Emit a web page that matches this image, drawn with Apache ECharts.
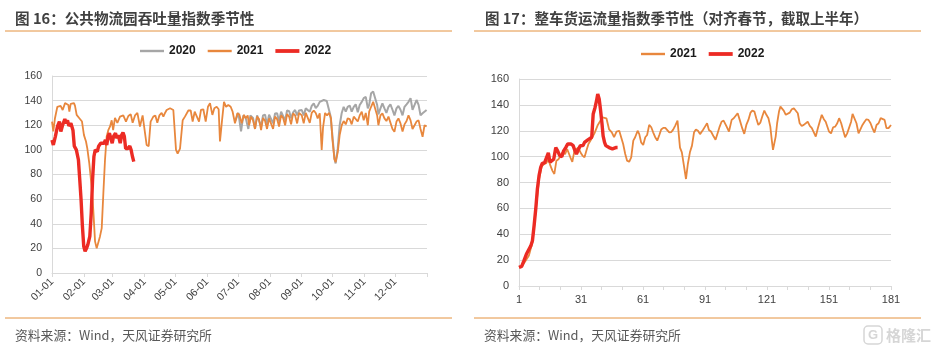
<!DOCTYPE html>
<html><head><meta charset="utf-8">
<script src="https://cdn.jsdelivr.net/npm/echarts@6/dist/echarts.min.js"></script>
<style>html,body{margin:0;padding:0;background:#fff}#c{width:939px;height:349px}</style>
</head><body><div id="c"></div>
<script>
// ---------- Left chart (图16): day-of-year positions and index values ----------
const monthTickDays = [0,31,59,90,120,151,181,212,243,273,304,334];
const monthTickAll = [0,31,59,90,120,151,181,212,243,273,304,334,365];
const monthLabels = ['01-01','02-01','03-01','04-01','05-01','06-01','07-01','08-01','09-01','10-01','11-01','12-01'];

const days2020 = [178.1,181.4,184,186.2,188.5,191.1,193.1,195.7,197.6,199.6,201.5,203.5,205.4,207.4,209.3,211.3,213.2,215.2,217.1,219.1,221,223,224.9,226.9,228.8,230.8,232.7,234.7,236.6,238.6,240.5,243.1,245,247,248.9,250.9,252.8,254.8,256.7,258.6,260.6,262.5,264.5,265.8,267.4,269,271,272.9,274.9,276.1,278.1,280,282,283.9,285.9,287.8,289.8,291.7,293.7,295.6,297.6,299.5,301.5,303.4,305.4,307.4,308.7,310.6,312.6,314.5,316.5,317.7,319.7,321.6,323.6,325.5,327.5,329.4,331.4,333.3,335.3,337.2,339.2,341.2,343.1,345.1,347,349,350.9,352.9,354.8,356.8,358.7,360.7,362.6,364.6];
const vals2020 = [123,130,115,128,126,117,128,126,117,128,127,119,128,128.6,120,128.6,129.7,121.5,129.5,129.7,123,131,131,124,132,131.5,125.6,130.5,132.4,128,132,132.4,128,133.7,135,131,135.7,137.8,134,135.7,139,139.7,140.5,139,139.7,138.6,128,112,93,89,101,120,130,135,131,135,136,131,135,137,130.5,136.5,139,142,143,133.7,136.5,146,147.4,148,136.5,128.8,133.7,137.8,133.7,130,135,137,132.6,128,133.7,135.7,132.6,128,135,137,139,142,132.6,136.5,140.5,136.5,128,129.7,131,132.4];

const days2021 = [0,1.3,2.9,5.2,7.1,8.4,10.4,12.7,14.3,15.9,16.9,18.2,20.1,21.4,22.4,24,25.6,26.6,27.9,29.2,31.1,33.1,34.4,36.3,38.6,40.2,41.9,43.5,45.4,46.7,48.4,50,51.6,53.2,54.8,56.5,58.1,59.5,61.3,63.6,66.2,69.4,72,74.3,76.6,78.5,80.8,83.1,85.6,88.2,89.9,92.1,94.1,96,98.6,100.6,102.5,104.5,106.7,108.4,110,111.6,113.3,114.9,116.5,118.1,120.7,122.3,124.6,127.2,129.4,131.1,132.7,135,136.9,138.9,140.8,143.1,145,147.3,149.6,151.8,153.8,156.1,158,160.3,162.2,163.5,165.5,167.4,169.4,171.6,173.9,175.8,178.1,180.4,182.4,184.6,186.9,188.5,190.5,191.8,193.7,195.7,197.6,199.6,201.5,203.5,205.4,207.4,209.3,211.3,213.2,215.2,217.1,219.1,221,223,224.9,226.9,228.8,230.8,232.7,234.7,236.6,238.6,240.5,243.1,245,247,248.9,250.9,252.8,254.8,256.7,258.6,260.6,262.5,263.8,265.8,267.7,269.7,271.6,272.9,274.9,276.1,278.1,280,282,283.9,285.9,287.8,289.8,291.7,293.7,295.6,297.6,299.5,301.5,303.4,305.4,307.4,308.7,310.6,312.6,314.5,316.5,317.7,319.7,321.6,323.6,325.5,327.5,329.4,331.4,333.3,335.3,337.2,339.2,341.2,343.1,345.1,347,349,350.9,352.9,354.8,356.8,358.7,360.7,362.6,364.6];
const vals2021 = [123,115,125.7,135,133.8,135.7,132.4,138,137.5,136.5,131,137.3,136.5,138,135.7,128.4,128.4,125.7,127,123,112,106.8,101,89,70,51,25.7,20,21,29.7,36.5,65,92,110.8,116,119,124,116,126,122,127,128,123,127.5,129,122,128,130,119,128,129,104,103,123,127,128,122,128,130,127,130,132.4,131,133.8,134,132.4,100,97,101,124,127,128,132,132,123,131,132.4,123,132.4,133,123,135,138,128.4,133.8,135,133,106.8,124,139,135,136.5,135,131,121.6,129.7,128.5,121.6,128.5,125.6,128,120,127,124,117,127,125,116,126,123.4,117,125.6,124,117,127,125,119,128,126,120,129,127,120.7,129.7,128,121.5,130,128,121.5,130,129,122,130,132,130,125.6,129.7,100,118,130,128,130,125.6,109,92.5,90,98,112,120,123.4,120.7,125.6,125,120.7,127,128,123,128,131,124,130,120,131,135,139,139,128,120,128,129.7,125.6,123.4,127,125.6,117,114.7,123,125.6,121.5,115,120.7,123.4,128,124,117,120,123,124,117,110.6,120,119];

const days2022 = [0,1.3,3.3,5.3,7.2,8.6,10.5,12.5,13.8,15.1,16.4,18.4,20.4,21.7,23.7,25.7,27,28.3,29.6,30.9,32.2,33.6,34.9,36.8,38.2,39.5,40.8,42.1,44.1,45.4,47.4,49.3,50.7,52,53.3,54.6,55.9,57.2,58.6,59.9,61.8,63.2,64.5,66.4,67.8,69.1,70.4,71.7,73.7,75.7,77,78.3,79.6];
const vals2022 = [108,104,111,119,123,115,120.5,125,121.6,124,119.5,121.6,116,103,100,92,76,59.5,38,21.6,17.6,20,23,29.7,48.6,76,94.6,100,98.6,103,105.4,106.8,105.4,108,104,111,113.5,112,105.4,111,113.5,109.5,112,105.4,112,114,111,101,101,103,100,94.6,90.5];

// ---------- Right chart (图17): days after Spring Festival alignment ----------
const rightLabelDays = [1,31,61,91,121,151,181];
const rightTickDays = [1,11,21,31,41,51,61,71,81,91,101,111,121,131,141,151,161,171,181];

const rDays2021 = [1,2.6,4.2,5.8,7.5,9.1,10.7,12,13.1,14.2,15.2,16.2,17.2,18.1,19.1,20.1,21,22,23.3,24.3,25.2,26.2,26.8,27.8,28.8,29.8,30.7,31.7,32.7,33.6,34.6,35.6,36.2,37.5,39,41.4,43.3,44.6,45.9,47,48.2,49.5,50.4,51.4,52.4,53.3,54.3,55.3,56.3,57.2,58.4,59.2,60.1,61.1,62.1,63,64,65,65.9,66.9,67.9,68.9,69.8,70.8,71.8,72.7,73.7,74.7,75.6,76.6,77.7,78.9,79.8,80.8,81.8,82.7,83.7,84.7,85.7,86.6,87.6,88.6,90,91,92,92.9,93.9,95.2,96.1,97.1,98.1,99,100,101.3,102.6,103.2,103.9,104.9,105.8,106.8,107.8,109,110,111,112,113,113.9,114.9,115.8,116.8,117.8,118.7,119.7,120.7,121.7,122.6,123.3,123.9,124.6,125.2,125.9,126.8,127.5,128.1,129.1,130.1,131,132,133,134,134.9,135.9,136.8,137.8,138.8,139.7,140.7,141.7,142.7,143.6,144.6,145.6,146.5,147.5,148.5,149.4,150.1,151,152,153,154,155,155.9,156.9,157.8,158.8,159.8,160.7,161.7,162.4,163.3,164.3,165.3,166.2,167.2,168.2,169.1,170.1,171.1,172,173,174,175,176,176.9,177.9,178.8,179.8,181];
const rVals2021 = [14.4,15.7,19.6,23.5,33.8,58,82.7,92.5,94.3,95,98,93,89,86.6,96.9,98,99.5,103.3,102,105.9,104.5,98,96,104.5,105.9,107,103.3,100.8,99.5,104.5,109.8,112.4,113.6,118,124,130.4,129.6,121,118.8,115,119.3,120,118.8,109.8,102,96.9,96,99.5,112.4,115,120,117.4,111,109,115,116.7,124.5,122.7,118.8,115,112.4,116.7,121,122.2,122.2,122.2,118.8,119,120.9,124,127.8,107,103.3,93,82.7,94.3,103.3,108.5,118.8,121,120,117.4,120.6,123.2,125.8,120.6,119.4,115.5,113,118,123.2,127,127.9,123.7,119.4,118.6,128.4,129.7,131,133.5,128.4,122,117.6,124.5,128.4,134,135.6,134.8,129.7,124.5,126.3,131,135.6,132.3,129.7,123.2,113,105.2,105.2,115.5,125.8,134.8,138.7,140,135.6,132.3,131.5,134,136.6,137.4,136.6,133.5,125.8,123.7,124.5,125.8,127,123.7,122,120.6,115.5,122,127,132.3,128.9,127,125.8,119.4,118,122.7,123.2,125.8,129.7,125.8,120.6,115,118,118.6,127,133,132.3,125.8,118,119.4,124.5,127,128.9,128.4,125.8,122,118.6,124.5,125.8,129.7,128.4,128.4,122,122,124.5];

const rDays2022 = [1,2.3,3.4,4.6,5.5,6.7,7.5,8.3,9.1,9.9,10.7,11.5,12.3,13.3,14.2,15.2,16,16.8,17.8,18.8,19.7,20.7,21.7,22.6,23.6,24.6,25.2,26.2,27.2,28.1,28.8,29.8,30.7,31.4,32,32.7,33.3,34.3,35.2,36.2,36.9,37.8,38.5,39.1,39.8,40.4,41.1,41.7,42.4,43,43.8,44.6,45.4,46.2,47,47.8,48.7];
const rVals2022 = [14.4,15.2,19.6,24.7,26,31,35,46.6,59.5,75,85.3,91.7,95,95,95,103,95.6,94.3,98,107,104.5,100.8,100,104.5,107,109.8,111,109.8,108.5,104.5,102,105.8,108.5,109.8,108.5,111,112.4,113,112.4,115,133,138,143,148.4,144.6,136.8,126.5,116,111,108.5,109.8,107,108.5,106,107,107,107];

const zip = (xs, ys) => xs.map((x, i) => [x, ys[i]]);

const C2020 = '#A6A6A6', C2021 = '#E8873D', C2022 = '#EC2B24';
const AX = '#404040', GRID = '#D9D9D9', SEP = '#E4923F';
const FONT = '"Liberation Sans", Arial, "Noto Sans CJK SC", sans-serif';
const CJK = '"Noto Sans CJK SC", "Liberation Sans", sans-serif';

const chart = echarts.init(document.getElementById('c'), null, {renderer: 'canvas'});

const yAxisBase = (idx, size) => ({
  type: 'value', gridIndex: idx, min: 0, max: 160, interval: 20,
  axisLine: {show: true, lineStyle: {color: GRID, width: 1}},
  axisTick: {show: false},
  axisLabel: {color: AX, fontSize: size, fontFamily: FONT, margin: 10},
  splitLine: {show: true, lineStyle: {color: GRID, width: 1}}
});

const option = {
  animation: false,
  backgroundColor: '#fff',
  textStyle: {fontFamily: FONT},
  grid: [
    {left: 52, right: 512, top: 76, bottom: 76, containLabel: false},
    {left: 519, right: 48, top: 79, bottom: 63, containLabel: false}
  ],
  legend: [
    {
      left: 140, top: 45, padding: 0, itemWidth: 24, itemHeight: 12, itemGap: 12,
      textStyle: {color: '#1a1a1a', fontSize: 12, fontWeight: 'bold', fontFamily: FONT},
      data: [
        {name: '2020', icon: 'path://M0 0H24V2.4H0Z'},
        {name: '2021', icon: 'path://M0 0H24V2.4H0Z'},
        {name: '2022', icon: 'path://M0 0H24V3.8H0Z'}
      ]
    },
    {
      left: 641, top: 48, padding: 0, itemWidth: 24, itemHeight: 12, itemGap: 12,
      textStyle: {color: '#1a1a1a', fontSize: 12, fontWeight: 'bold', fontFamily: FONT},
      data: [
        {name: '2021 ', icon: 'path://M0 0H24V2.4H0Z'},
        {name: '2022 ', icon: 'path://M0 0H24V3.8H0Z'}
      ],
      formatter: n => n.trim()
    }
  ],
  xAxis: [
    {
      type: 'value', gridIndex: 0, min: 0, max: 365,
      axisLine: {show: true, lineStyle: {color: GRID}},
      axisTick: {show: true, length: 4, lineStyle: {color: GRID}, customValues: monthTickAll},
      axisLabel: {
        color: AX, fontSize: 10.5, fontFamily: FONT, rotate: 45, margin: 7,
        customValues: monthTickDays,
        formatter: v => monthLabels[monthTickDays.indexOf(v)] || ''
      },
      splitLine: {show: false}
    },
    {
      type: 'value', gridIndex: 1, min: 1, max: 181,
      axisLine: {show: true, lineStyle: {color: GRID}},
      axisTick: {show: true, length: 4, lineStyle: {color: GRID}, customValues: rightTickDays},
      axisLabel: {color: AX, fontSize: 11, fontFamily: FONT, margin: 8, customValues: rightLabelDays},
      splitLine: {show: false}
    }
  ],
  yAxis: [yAxisBase(0, 10.5), yAxisBase(1, 11)],
  series: [
    {name: '2020', type: 'line', xAxisIndex: 0, yAxisIndex: 0, data: zip(days2020, vals2020),
     showSymbol: false, lineStyle: {color: C2020, width: 2}, itemStyle: {color: C2020}},
    {name: '2021', type: 'line', xAxisIndex: 0, yAxisIndex: 0, data: zip(days2021, vals2021),
     showSymbol: false, lineStyle: {color: C2021, width: 1.8}, itemStyle: {color: C2021}},
    {name: '2022', type: 'line', xAxisIndex: 0, yAxisIndex: 0, data: zip(days2022, vals2022),
     showSymbol: false, lineStyle: {color: C2022, width: 3.4}, itemStyle: {color: C2022}},
    {name: '2021 ', type: 'line', xAxisIndex: 1, yAxisIndex: 1, data: zip(rDays2021, rVals2021),
     showSymbol: false, lineStyle: {color: C2021, width: 1.8}, itemStyle: {color: C2021}},
    {name: '2022 ', type: 'line', xAxisIndex: 1, yAxisIndex: 1, data: zip(rDays2022, rVals2022),
     showSymbol: false, lineStyle: {color: C2022, width: 3.4}, itemStyle: {color: C2022}}
  ],
  graphic: [
    {type: 'text', x: 15, y: 18, style: {text: '图 16：公共物流园吞吐量指数季节性', font: 'bold 14.6px ' + CJK, fill: '#404040', verticalAlign: 'middle'}},
    {type: 'text', x: 485, y: 18, style: {text: '图 17：整车货运流量指数季节性（对齐春节，截取上半年）', font: 'bold 14.5px ' + CJK, fill: '#404040', verticalAlign: 'middle'}},
    {type: 'line', shape: {x1: 5, y1: 31, x2: 452, y2: 31}, style: {stroke: SEP, lineWidth: 1}},
    {type: 'line', shape: {x1: 474, y1: 31, x2: 921, y2: 31}, style: {stroke: SEP, lineWidth: 1}},
    {type: 'line', shape: {x1: 5, y1: 318, x2: 452, y2: 318}, style: {stroke: SEP, lineWidth: 1}},
    {type: 'line', shape: {x1: 474, y1: 318, x2: 921, y2: 318}, style: {stroke: SEP, lineWidth: 1}},
    {type: 'text', x: 15, y: 335, style: {text: '资料来源：Wind，天风证券研究所', font: '12.8px ' + CJK, fill: '#595959', verticalAlign: 'middle'}},
    {type: 'text', x: 484, y: 335, style: {text: '资料来源：Wind，天风证券研究所', font: '12.8px ' + CJK, fill: '#595959', verticalAlign: 'middle'}},
    {type: 'rect', shape: {x: 864, y: 326, width: 18, height: 18, r: 4}, style: {fill: 'none', stroke: '#D6D6D6', lineWidth: 1.5}},
    {type: 'text', x: 873, y: 335, style: {text: 'G', font: 'bold 13px ' + FONT, fill: '#D6D6D6', align: 'center', verticalAlign: 'middle'}},
    {type: 'text', x: 886, y: 335, style: {text: '格隆汇', font: 'bold 15px ' + CJK, fill: '#D6D6D6', verticalAlign: 'middle'}}
  ]
};
chart.setOption(option);
</script></body></html>
